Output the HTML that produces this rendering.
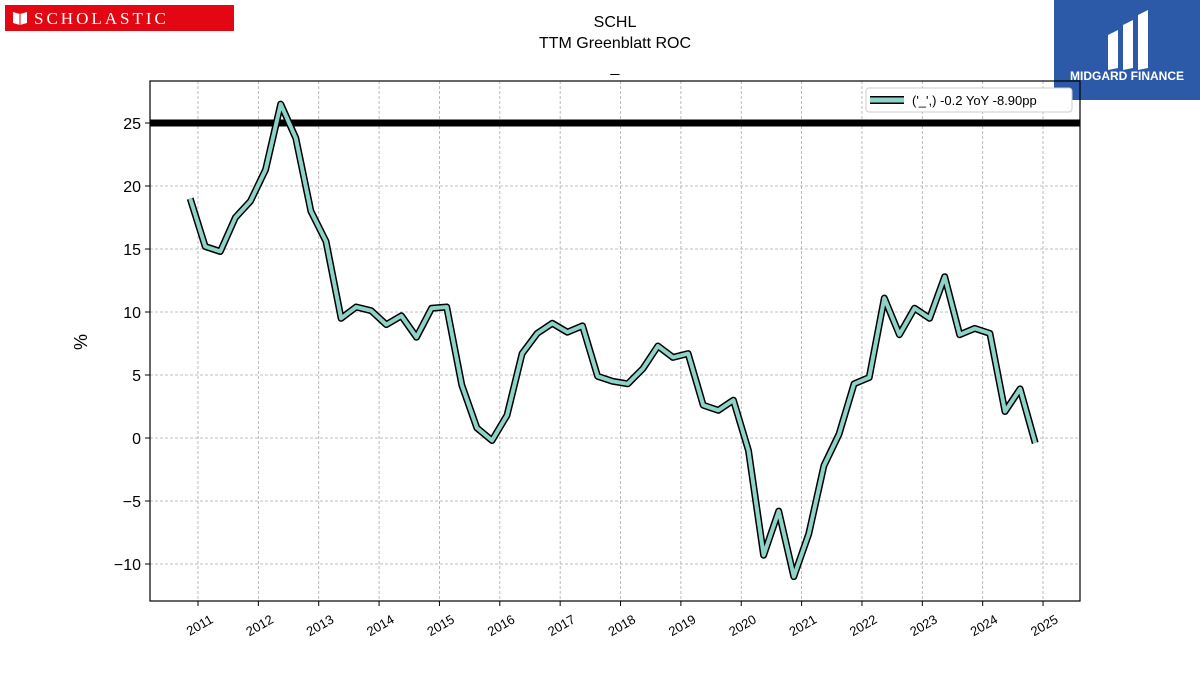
<!DOCTYPE html>
<html><head><meta charset="utf-8"><style>
body{margin:0;background:#fff;width:1200px;height:675px;overflow:hidden;font-family:"Liberation Sans",sans-serif}
</style></head><body>
<svg width="1200" height="675" xmlns="http://www.w3.org/2000/svg" font-family="Liberation Sans, sans-serif">
<g>
<rect x="5" y="5" width="229" height="26" fill="#e30613"/>
<text x="34" y="24" fill="#fff" font-size="17" font-family="Liberation Serif, serif" letter-spacing="3">SCHOLASTIC</text>
<path d="M13 12 L20 14 L27 12 L27 23 L20 25 L13 23 Z" fill="#fff"/><line x1="20" y1="14" x2="20" y2="25" stroke="#e30613" stroke-width="1"/>
</g>
<g>
<rect x="1054" y="0" width="146" height="100" fill="#2c5aa8"/>
<path d="M1108 35 L1118 30 L1118 68 L1108 70 Z M1123 25 L1133 20 L1133 68 L1123 70 Z M1138 15 L1148 10 L1148 68 L1138 70 Z" fill="#fff"/>
<text x="1127" y="80" fill="#fff" font-size="12" font-weight="bold" text-anchor="middle">MIDGARD FINANCE</text>
</g>
<text x="615" y="27" font-size="16" text-anchor="middle">SCHL</text>
<text x="615" y="48" font-size="16" text-anchor="middle">TTM Greenblatt ROC</text>
<text x="615" y="72" font-size="16" text-anchor="middle">_</text>
<g id="grid"></g>
<g id="axes"></g>
<g id="series"></g>
<rect x="150" y="81" width="930" height="520" fill="none" stroke="#000" stroke-width="1.2"/>
<text x="87" y="342" font-size="18" text-anchor="middle" transform="rotate(-90 87 342)">%</text>
<g>
<rect x="866" y="88" width="206" height="24" fill="#fff" stroke="#ccc" rx="3"/>
<line x1="870" y1="100" x2="904" y2="100" stroke="#000" stroke-width="8"/>
<line x1="870" y1="100" x2="904" y2="100" stroke="#8dd3c7" stroke-width="5"/>
<text x="912" y="105" font-size="13">('_',) -0.2 YoY -8.90pp</text>
</g>
</svg>
<script>
const values=[19,15.2,14.8,17.5,18.8,21.3,26.5,23.8,18,15.6,9.5,10.4,10.1,9,9.7,8,10.3,10.4,4.2,0.8,-0.2,1.8,6.7,8.3,9.1,8.4,8.9,4.9,4.5,4.3,5.5,7.3,6.4,6.7,2.6,2.2,3.0,-1,-9.3,-5.8,-11,-7.6,-2.2,0.3,4.3,4.8,11.1,8.2,10.3,9.5,12.8,8.2,8.7,8.3,2.1,3.9,-0.4];
const startYear=2010.87;
const yTicks=[-10,-5,0,5,10,15,20,25];
const xTicks=[2011,2012,2013,2014,2015,2016,2017,2018,2019,2020,2021,2022,2023,2024,2025];
const refLine=25;
const NS="http://www.w3.org/2000/svg";
const X=t=>198+(t-2011)*60.36;
const Y=v=>438-v*12.6;
function mk(tag,attrs,parent){const e=document.createElementNS(NS,tag);for(const k in attrs)e.setAttribute(k,attrs[k]);document.getElementById(parent).appendChild(e);return e;}
yTicks.forEach(v=>{
 const g=mk('line',{x1:150,x2:1080,y1:Y(v),y2:Y(v),stroke:'#aaa','stroke-dasharray':'3,2','stroke-width':0.8},'grid');
 
 const tk=mk('line',{x1:145,x2:150,y1:Y(v),y2:Y(v),stroke:'#000'},'axes');
 
 const t=mk('text',{x:141,y:Y(v)+6,'font-size':16,'text-anchor':'end'},'axes');t.textContent=(v<0?'\u2212'+(-v):v);
 
});
xTicks.forEach(v=>{
 const g=mk('line',{x1:X(v),x2:X(v),y1:81,y2:601,stroke:'#aaa','stroke-dasharray':'3,2','stroke-width':0.8},'grid');
 
 const tk=mk('line',{x1:X(v),x2:X(v),y1:601,y2:606,stroke:'#000'},'axes');
 
 const t=mk('text',{x:X(v)+16,y:622,'font-size':13,'text-anchor':'end',transform:`rotate(-30 ${X(v)+16} 622)`},'axes');t.textContent=v;
 
});
const rl=mk('line',{x1:150,x2:1080,y1:Y(refLine),y2:Y(refLine),stroke:'#000','stroke-width':7},'series');

const pts=values.map((v,i)=>X(startYear+i*0.25).toFixed(1)+','+Y(v).toFixed(1)).join(' ');
const o=mk('polyline',{points:pts,fill:'none',stroke:'#000','stroke-width':7,'stroke-linejoin':'round'},'series');

const l=mk('polyline',{points:pts,fill:'none',stroke:'#8dd3c7','stroke-width':4,'stroke-linejoin':'round'},'series');

</script>
</body></html>
